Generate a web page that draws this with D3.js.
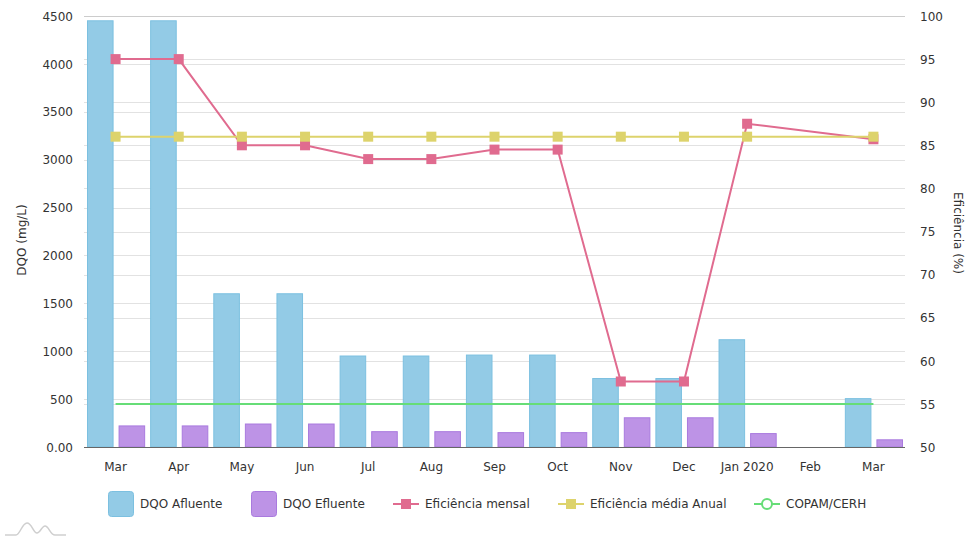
<!DOCTYPE html>
<html><head><meta charset="utf-8">
<script src="https://cdn.jsdelivr.net/npm/d3@7"></script>
<style>body{margin:0;background:#fff;font-family:"DejaVu Sans",Verdana,sans-serif;}</style>
</head><body>
<svg id="c" width="969" height="540"></svg>
<script>
const months = ["Mar","Apr","May","Jun","Jul","Aug","Sep","Oct","Nov","Dec","Jan 2020","Feb","Mar "];
const afluente = [4450,4450,1600,1600,950,950,960,960,715,715,1120,null,505];
const efluente = [220,220,240,240,160,160,150,150,305,305,140,null,75];
const efMensal = [95,95,85,85,83.4,83.4,84.5,84.5,57.6,57.6,87.5,null,85.7];
const efMedia = [86,86,86,86,86,86,86,86,86,86,86,null,86];
const copam = [55,55,55,55,55,55,55,55,55,55,55,55,55];
const leftTicks = [0,500,1000,1500,2000,2500,3000,3500,4000,4500];
const rightTicks = [50,55,60,65,70,75,80,85,90,95,100];

const svg = d3.select("#c");
const L=84,R=905,T=16,B=447;
const x = d3.scaleBand().domain(months).range([L,R]);
const yL = d3.scaleLinear().domain([0,4500]).range([B,T]);
const yR = d3.scaleLinear().domain([50,100]).range([B,T]);
const font = "DejaVu Sans, Verdana, sans-serif";

// gridlines
svg.append("g").selectAll("line").data(leftTicks.slice(1)).join("line")
  .attr("x1",L).attr("x2",R).attr("y1",d=>Math.round(yL(d))+0.5).attr("y2",d=>Math.round(yL(d))+0.5)
  .attr("stroke","#e2e2e2");
svg.append("g").selectAll("line").data(rightTicks.slice(1)).join("line")
  .attr("x1",L).attr("x2",R).attr("y1",d=>Math.round(yR(d))+0.5).attr("y2",d=>Math.round(yR(d))+0.5)
  .attr("stroke","#e2e2e2");
svg.append("line").attr("x1",L).attr("x2",R).attr("y1",T+0.5).attr("y2",T+0.5).attr("stroke","#cccccc");

// bars
const bw = x.bandwidth();
svg.append("g").selectAll("rect").data(months.map((m,i)=>({m,v:afluente[i]})).filter(d=>d.v!=null)).join("rect")
  .attr("x",d=>x(d.m)+3.5).attr("width",bw/2-6).attr("y",d=>yL(d.v)).attr("height",d=>B-yL(d.v))
  .attr("fill","#93cbe6").attr("stroke","#7cc0e0").attr("stroke-width",1);
svg.append("g").selectAll("rect").data(months.map((m,i)=>({m,v:efluente[i]})).filter(d=>d.v!=null)).join("rect")
  .attr("x",d=>x(d.m)+bw/2+3.5).attr("width",bw/2-6).attr("y",d=>yL(d.v)).attr("height",d=>B-yL(d.v))
  .attr("fill","#bd93e6").attr("stroke","#a97ade").attr("stroke-width",1);

// axis baseline
svg.append("line").attr("x1",L).attr("x2",R).attr("y1",B+0.5).attr("y2",B+0.5).attr("stroke","#666");

const cx = m => x(m)+bw/2;
function series(vals,color,marker){
  const pts = months.map((m,i)=>({m,v:vals[i]})).filter(d=>d.v!=null);
  svg.append("path").datum(pts).attr("fill","none").attr("stroke",color).attr("stroke-width",2)
    .attr("d",d3.line().x(d=>cx(d.m)).y(d=>yR(d.v)));
  if(marker) svg.append("g").selectAll("rect").data(pts).join("rect")
    .attr("x",d=>cx(d.m)-5).attr("y",d=>yR(d.v)-5).attr("width",10).attr("height",10).attr("fill",color);
}
svg.append("path").datum(months.map((m,i)=>({m,v:copam[i]}))).attr("fill","none").attr("stroke","#66dd77").attr("stroke-width",2)
  .attr("d",d3.line().x(d=>cx(d.m)).y(d=>yR(d.v)));
series(efMensal,"#e06b8f",true);
series(efMedia,"#ddd36c",true);

// axes
const axL = svg.append("g").attr("transform",`translate(${L-8},0)`)
  .call(d3.axisLeft(yL).tickValues(leftTicks).tickSize(0).tickFormat(d=>d===0?"0.00":d));
const axR = svg.append("g").attr("transform",`translate(${R+12},0)`)
  .call(d3.axisRight(yR).tickValues(rightTicks).tickSize(0));
const axB = svg.append("g").attr("transform",`translate(0,${B+10})`)
  .call(d3.axisBottom(x).tickSize(0).tickFormat(d=>d.trim()));
[axL,axR,axB].forEach(a=>{a.select(".domain").remove();a.selectAll("text").attr("font-family",font).attr("font-size",12).attr("fill","#333");});
axL.selectAll("text").attr("dy","0.35em");
axR.selectAll("text").attr("dy","0.35em");
axB.selectAll("text").attr("dy","0.9em");

svg.append("text").attr("transform","translate(26,240) rotate(-90)").attr("text-anchor","middle")
  .attr("font-family",font).attr("font-size",12).attr("fill","#333").text("DQO (mg/L)");
svg.append("text").attr("transform","translate(954,233) rotate(90)").attr("text-anchor","middle")
  .attr("font-family",font).attr("font-size",12).attr("fill","#333").text("Eficiência (%)");

// legend
const legY = 504;
const legend = [
  {t:"DQO Afluente",type:"box",c:"#93cbe6",s:"#7cc0e0",x:108},
  {t:"DQO Efluente",type:"box",c:"#bd93e6",s:"#a97ade",x:251},
  {t:"Eficiência mensal",type:"sq",c:"#e06b8f",x:393},
  {t:"Eficiência média Anual",type:"sq",c:"#ddd36c",x:558},
  {t:"COPAM/CERH",type:"circ",c:"#66dd77",x:754}
];
legend.forEach(d=>{
  const g = svg.append("g");
  if(d.type==="box"){
    g.append("rect").attr("x",d.x+0.5).attr("y",legY-12.5).attr("width",25).attr("height",25).attr("rx",3)
      .attr("fill",d.c).attr("stroke",d.s);
    g.append("text").attr("x",d.x+32).attr("y",legY).attr("dy","0.35em").attr("font-family",font)
      .attr("font-size",12).attr("fill","#333").text(d.t);
  } else {
    g.append("line").attr("x1",d.x).attr("x2",d.x+26).attr("y1",legY).attr("y2",legY).attr("stroke",d.c).attr("stroke-width",2);
    if(d.type==="sq") g.append("rect").attr("x",d.x+8).attr("y",legY-5).attr("width",10).attr("height",10).attr("fill",d.c);
    else g.append("circle").attr("cx",d.x+13).attr("cy",legY).attr("r",5).attr("fill","#fff").attr("stroke",d.c).attr("stroke-width",2);
    g.append("text").attr("x",d.x+32).attr("y",legY).attr("dy","0.35em").attr("font-family",font)
      .attr("font-size",12).attr("fill","#333").text(d.t);
  }
});

// watermark logo
svg.append("path").attr("d","M5,535 L16,535 C20,535 22,523 27,523 C32,523 33,533 37,533 C40,533 42,526 45,526 C49,526 50,535 55,535 L66,535")
  .attr("fill","none").attr("stroke","#cfcfcf").attr("stroke-width",1.5);
</script>
</body></html>
